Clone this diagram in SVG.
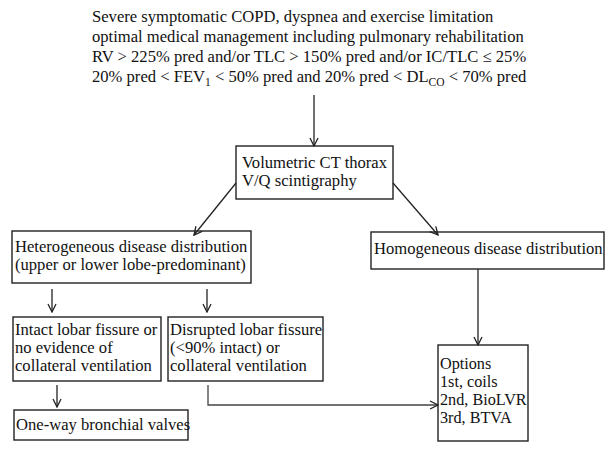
<svg xmlns="http://www.w3.org/2000/svg" width="615" height="452" viewBox="0 0 615 452">
<defs>
<style>
text{font-family:"Liberation Serif","Times New Roman",serif;font-size:16.6px;fill:#111}
.box{fill:#fff;stroke:#222;stroke-width:1.4}
.con{fill:none;stroke:#222;stroke-width:1.3}
.sub{font-size:11.5px}
.opt{font-size:16.2px}
</style>
<marker id="ah" viewBox="0 0 10 10" refX="9" refY="5" markerWidth="10" markerHeight="10" markerUnits="userSpaceOnUse" orient="auto">
<path d="M1,1 L9,5 L1,9" fill="none" stroke="#222" stroke-width="1.3"/>
</marker>
</defs>
<rect width="615" height="452" fill="#fff"/>
<g id="criteria">
<text x="92" y="22">Severe symptomatic COPD, dyspnea and exercise limitation</text>
<text x="92" y="42">optimal medical management including pulmonary rehabilitation</text>
<text x="92" y="62">RV &gt; 225% pred and/or TLC &gt; 150% pred and/or IC/TLC ≤ 25%</text>
<text x="92" y="82">20% pred &lt; FEV<tspan class="sub" dy="4">1</tspan><tspan dy="-4"> &lt; 50% pred and 20% pred &lt; DL</tspan><tspan class="sub" dy="4">CO</tspan><tspan dy="-4"> &lt; 70% pred</tspan></text>
</g>
<g id="imaging">
<rect class="box" x="236" y="146" width="157" height="53"/>
<text x="242" y="168">Volumetric CT thorax</text>
<text x="242" y="186">V/Q scintigraphy</text>
</g>
<g id="heterogeneous">
<rect class="box" x="12" y="231" width="239" height="52"/>
<text x="15" y="252">Heterogeneous disease distribution</text>
<text x="15" y="270">(upper or lower lobe-predominant)</text>
</g>
<g id="homogeneous">
<rect class="box" x="371" y="232" width="233" height="37"/>
<text x="374" y="254">Homogeneous disease distribution</text>
</g>
<g id="intact">
<rect class="box" x="13" y="317" width="148" height="64"/>
<text x="15" y="335">Intact lobar fissure or</text>
<text x="15" y="353">no evidence of</text>
<text x="15" y="371">collateral ventilation</text>
</g>
<g id="disrupted">
<rect class="box" x="168" y="317" width="155" height="64"/>
<text x="170" y="335">Disrupted lobar fissure</text>
<text x="170" y="353">(&lt;90% intact) or</text>
<text x="170" y="371">collateral ventilation</text>
</g>
<g id="valves">
<rect class="box" x="14" y="410" width="174" height="30"/>
<text x="16" y="430">One-way bronchial valves</text>
</g>
<g id="options">
<rect class="box" x="438" y="345" width="90" height="96"/>
<text class="opt" x="440" y="369">Options</text>
<text class="opt" x="440" y="387">1st, coils</text>
<text class="opt" x="440" y="405">2nd, BioLVR</text>
<text class="opt" x="440" y="423">3rd, BTVA</text>
</g>
<g id="connectors">
<line class="con" x1="314" y1="95" x2="314" y2="146" marker-end="url(#ah)"/>
<line class="con" x1="236" y1="183" x2="194" y2="235" marker-end="url(#ah)"/>
<line class="con" x1="393" y1="183" x2="438" y2="235" marker-end="url(#ah)"/>
<line class="con" x1="52" y1="289" x2="52" y2="312" marker-end="url(#ah)"/>
<line class="con" x1="207" y1="289" x2="207" y2="312" marker-end="url(#ah)"/>
<line class="con" x1="478" y1="269" x2="478" y2="345" marker-end="url(#ah)"/>
<line class="con" x1="57" y1="385" x2="57" y2="407" marker-end="url(#ah)"/>
<path class="con" d="M208,385 V405 H438" marker-end="url(#ah)" style="stroke:#444"/>
</g>
</svg>
